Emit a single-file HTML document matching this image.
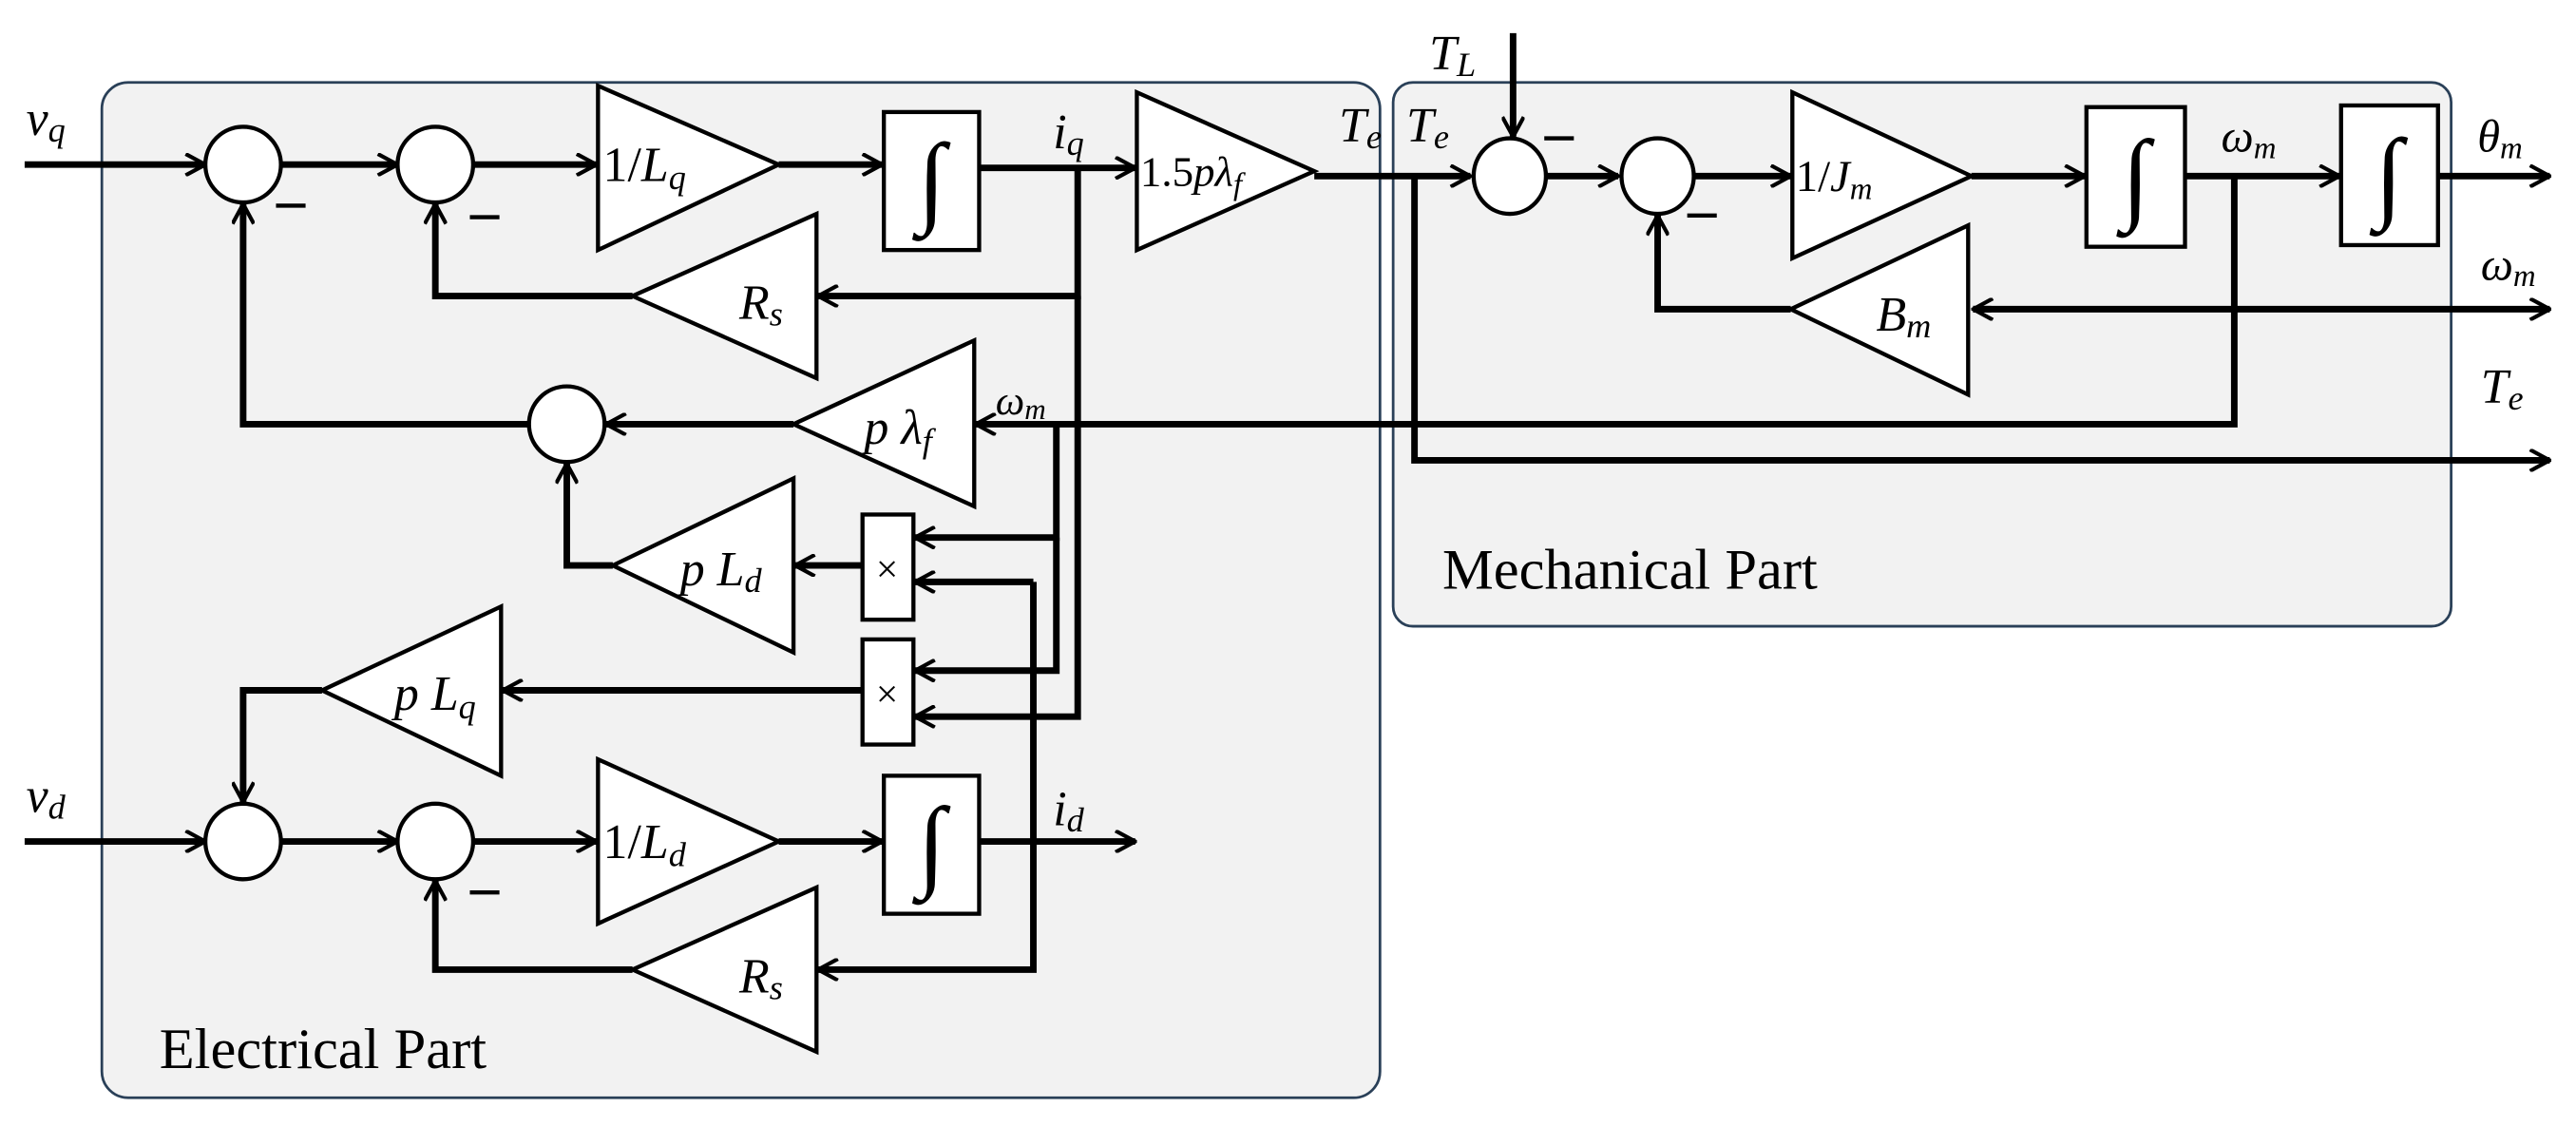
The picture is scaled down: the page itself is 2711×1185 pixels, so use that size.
<!DOCTYPE html>
<html><head><meta charset="utf-8"><style>html,body{margin:0;padding:0;background:#fff}svg{display:block}</style></head><body>
<svg width="2711" height="1185" viewBox="0 0 1568 685" xmlns="http://www.w3.org/2000/svg" font-family="Liberation Serif, serif">
<defs>
<marker id="a" viewBox="0 0 14 14" refX="13" refY="7" markerWidth="14" markerHeight="14" markerUnits="userSpaceOnUse" orient="auto"><path d="M1,0.5 L13,7 L1,13.5" fill="none" stroke="#000" stroke-width="2.4"/></marker>
</defs>
<rect x="62" y="50" width="778" height="618" rx="16" fill="#f2f2f2" stroke="#2a4058" stroke-width="1.6"/>
<rect x="848" y="50" width="644" height="331" rx="12" fill="#f2f2f2" stroke="#2a4058" stroke-width="1.6"/>
<g fill="none" stroke="#000" stroke-width="4" marker-end="url(#a)">
<path d="M15,100 H125"/><path d="M171,100 H242"/><path d="M288,100 H363"/><path d="M474,100 H537"/>
<path d="M596,102 H691"/><path d="M800,107 H895"/><path d="M921,20 V83"/>
<path d="M941,107 H985"/><path d="M1031,107 H1090"/><path d="M1200,107 H1269"/><path d="M1330,107 H1424"/><path d="M1484,107 H1552"/>
<path d="M656,102 V180 H498"/><path d="M385,180 H265 V124"/>
<path d="M1360,107 V258 H594"/><path d="M483,258 H369"/><path d="M322,258 H148 V124"/>
<path d="M643,258 V327 H557"/><path d="M643,327 V408 H557"/>
<path d="M656,180 V436 H557"/>
<path d="M525,344 H484"/><path d="M373,344 H345 V282"/>
<path d="M525,420 H306"/><path d="M196,420 H148 V488"/>
<path d="M15,512 H125"/><path d="M171,512 H242"/><path d="M288,512 H363"/><path d="M474,512 H537"/><path d="M596,512 H691"/>
<path d="M629,354 H557"/><path d="M629,354 V590 H498"/><path d="M385,590 H265 V536"/>
<path d="M1201,188 H1552"/><path d="M1090,188 H1009 V131"/>
<path d="M861,107 V280 H1552"/>
</g>
<path d="M1212,188 H1201" stroke="#000" stroke-width="4" marker-end="url(#a)"/>
<g fill="#fff" stroke="#000" stroke-width="2.5">
<ellipse cx="148" cy="100" rx="23" ry="23"/><ellipse cx="265" cy="100" rx="23" ry="23"/>
<ellipse cx="345" cy="258" rx="23" ry="23"/>
<ellipse cx="148" cy="512" rx="23" ry="23"/><ellipse cx="265" cy="512" rx="23" ry="23"/>
<ellipse cx="919" cy="107" rx="22" ry="23"/><ellipse cx="1009" cy="107" rx="22" ry="23"/>
<path d="M364,52 L364,152 L474,100Z"/><path d="M692,56 L692,152 L800,104Z"/>
<path d="M497,130 L497,230 L385,180Z"/><path d="M593,207 L593,308 L483,258Z"/>
<path d="M483,291 L483,397 L373,344Z"/><path d="M305,369 L305,472 L196,420Z"/>
<path d="M364,462 L364,562 L474,512Z"/><path d="M497,540 L497,640 L385,590Z"/>
<path d="M1091,56 L1091,157 L1200,107Z"/><path d="M1198,137 L1198,240 L1090,188Z"/>
<rect x="538" y="68" width="58" height="84"/><rect x="538" y="472" width="58" height="84"/>
<rect x="1270" y="65" width="60" height="85"/><rect x="1425" y="64" width="59" height="85"/>
<rect x="525" y="313" width="31" height="64"/><rect x="525" y="389" width="31" height="64"/>
</g>
<g stroke="#000" stroke-width="2.5">
<path d="M168,125 H186"/><path d="M286,132 H304"/><path d="M286,543 H304"/><path d="M940,84 H958"/><path d="M1027,131 H1045"/>
</g>
<g font-size="62" font-style="italic" text-anchor="middle">
<text x="567" y="130">∫</text><text x="567" y="534">∫</text><text x="1300" y="128">∫</text><text x="1454" y="127">∫</text>
</g>
<g font-size="24" text-anchor="middle"><text x="540" y="354">×</text><text x="540" y="430">×</text></g>
<g font-size="30">
<text x="16" y="82" font-style="italic">v<tspan font-size="21" dy="4">q</tspan></text>
<text x="16" y="494" font-style="italic">v<tspan font-size="21" dy="4">d</tspan></text>
<text x="367" y="110">1/<tspan font-style="italic">L</tspan><tspan font-size="21" dy="5" font-style="italic">q</tspan></text>
<text x="367" y="522">1/<tspan font-style="italic">L</tspan><tspan font-size="21" dy="5" font-style="italic">d</tspan></text>
<text x="694" y="113" font-size="26">1.5<tspan font-style="italic">pλ</tspan><tspan font-size="19" dy="5" font-style="italic">f</tspan></text>
<text x="641" y="90" font-style="italic">i<tspan font-size="21" dy="4">q</tspan></text>
<text x="641" y="502" font-style="italic">i<tspan font-size="21" dy="4">d</tspan></text>
<text x="815" y="86" font-style="italic">T<tspan font-size="21" dy="4">e</tspan></text>
<text x="856" y="86" font-style="italic">T<tspan font-size="21" dy="4">e</tspan></text>
<text x="870" y="42" font-style="italic">T<tspan font-size="21" dy="4">L</tspan></text>
<text x="450" y="194" font-style="italic">R<tspan font-size="21" dy="4">s</tspan></text>
<text x="450" y="604" font-style="italic">R<tspan font-size="21" dy="4">s</tspan></text>
<text x="526" y="270" font-style="italic">p λ<tspan font-size="21" dy="5">f</tspan></text>
<text x="414" y="356" font-style="italic">p L<tspan font-size="21" dy="4">d</tspan></text>
<text x="240" y="432" font-style="italic">p L<tspan font-size="21" dy="5">q</tspan></text>
<text x="606" y="252" font-size="25" font-style="italic">ω<tspan font-size="18" dy="3">m</tspan></text>
<text x="1093" y="116" font-size="27">1/<tspan font-style="italic">J</tspan><tspan font-size="19" dy="5" font-style="italic">m</tspan></text>
<text x="1142" y="201" font-style="italic">B<tspan font-size="21" dy="4">m</tspan></text>
<text x="1352" y="92" font-size="28" font-style="italic">ω<tspan font-size="19" dy="4">m</tspan></text>
<text x="1508" y="92" font-size="28" font-style="italic">θ<tspan font-size="19" dy="4">m</tspan></text>
<text x="1510" y="170" font-size="28" font-style="italic">ω<tspan font-size="19" dy="4">m</tspan></text>
<text x="1510" y="245" font-style="italic">T<tspan font-size="21" dy="4">e</tspan></text>
</g>
<text x="97" y="650" font-size="35">Electrical Part</text>
<text x="878" y="358" font-size="35">Mechanical Part</text>
</svg>
</body></html>
